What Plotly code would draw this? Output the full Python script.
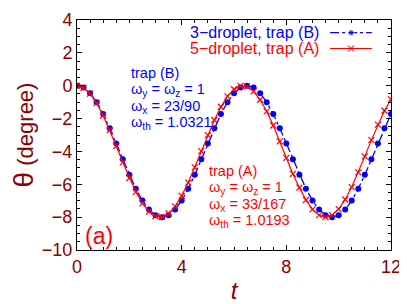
import plotly.graph_objects as go

t = [0.25 * k for k in range(49)]

theta_B = [0, -0.116, -0.458, -1.006, -1.728, -2.582, -3.518, -4.482, -5.418, -6.273,
           -6.994, -7.541, -7.884, -8.0, -7.884, -7.541, -6.994, -6.273, -5.418, -4.482,
           -3.518, -2.582, -1.728, -1.006, -0.458, -0.116, 0.0, -0.116, -0.458, -1.006,
           -1.728, -2.582, -3.518, -4.482, -5.418, -6.273, -6.994, -7.541, -7.884, -8.0,
           -7.884, -7.541, -6.994, -6.273, -5.418, -4.482, -3.518, -2.582, -1.728]

theta_A = [0, -0.123, -0.482, -1.058, -1.814, -2.704, -3.672, -4.665, -5.615, -6.463,
           -7.158, -7.664, -7.947, -7.986, -7.779, -7.342, -6.704, -5.898, -4.969, -3.979,
           -3.003, -2.085, -1.283, -0.649, -0.213, -0.013, -0.057, -0.343, -0.855, -1.562,
           -2.423, -3.384, -4.389, -5.370, -6.205, -6.958, -7.527, -7.882, -8.0, -7.873,
           -7.509, -6.928, -6.170, -5.278, -4.301, -3.311, -2.368, -1.522, -0.827]

x_ticks = [0, 4, 8, 12]
y_ticks = [4, 2, 0, -2, -4, -6, -8, -10]

legend_labels = ["3\u2212droplet, trap (B)", "5\u2212droplet, trap (A)"]
legend_sample_x = [0.806, 0.873, 0.939]
legend_rows_y = [0.945, 0.876]

ann_B = ["trap (B)", "\u03c9<sub>y</sub> = \u03c9<sub>z</sub> = 1",
         "\u03c9<sub>x</sub> = 23/90", "\u03c9<sub>th</sub> = 1.0321"]
ann_A = ["trap (A)", "\u03c9<sub>y</sub> = \u03c9<sub>z</sub> = 1",
         "\u03c9<sub>x</sub> = 33/167", "\u03c9<sub>th</sub> = 1.0193"]

DR = "#8b0000"
FONT = "Liberation Sans, Arial, sans-serif"
BLUE = "#0000ff"
RED = "#ff0000"

fig = go.Figure()
fig.add_trace(go.Scatter(
    x=t, y=theta_B, mode="lines+markers", name=legend_labels[0], showlegend=False,
    line=dict(color=BLUE, width=1.3, dash="dashdot"),
    marker=dict(color=BLUE, size=6, symbol="circle")))
fig.add_trace(go.Scatter(
    x=t, y=theta_A, mode="lines+markers", name=legend_labels[1], showlegend=False,
    line=dict(color=RED, width=1.2),
    marker=dict(color=RED, size=6, symbol="x-thin", line=dict(color=RED, width=1.2))))

# custom legend samples (symbol to the right of text, as in the reference)
fig.add_trace(go.Scatter(
    x=legend_sample_x, y=[legend_rows_y[0]] * 3, xaxis="x2", yaxis="y2",
    mode="lines+markers", showlegend=False, hoverinfo="skip",
    line=dict(color=BLUE, width=1.3, dash="dashdot"),
    marker=dict(color=BLUE, size=[0, 6, 0], symbol="circle")))
fig.add_trace(go.Scatter(
    x=legend_sample_x, y=[legend_rows_y[1]] * 3, xaxis="x2", yaxis="y2",
    mode="lines+markers", showlegend=False, hoverinfo="skip",
    line=dict(color=RED, width=1.2),
    marker=dict(color=RED, size=[0, 6, 0], symbol="x-thin", line=dict(color=RED, width=1.2))))

for lab, yy, col in zip(legend_labels, legend_rows_y, [BLUE, RED]):
    fig.add_annotation(xref="paper", yref="paper", x=0.778, y=yy, xanchor="right",
                       yanchor="middle", showarrow=False, text=lab,
                       font=dict(size=16, color=col, family=FONT))

axis_common = dict(showline=True, linecolor="black", linewidth=1, mirror="ticks",
                   ticks="inside", ticklen=5, tickcolor="black", showgrid=False,
                   zeroline=False, automargin=False,
                   tickfont=dict(size=18, color=DR, family=FONT))

xaxis = dict(range=[0, 12], tickvals=x_ticks, ticktext=[str(v) for v in x_ticks],
             minor=dict(dtick=0.5, ticks="inside", ticklen=3, tickcolor="black"),
             title=dict(text="<i>t</i>", font=dict(size=24, color=DR, family=FONT), standoff=6),
             **axis_common)
yaxis = dict(range=[-10, 4], tickvals=y_ticks,
             ticktext=[str(v).replace("-", "\u2212") for v in y_ticks],
             minor=dict(dtick=0.5, ticks="inside", ticklen=3, tickcolor="black"),
             title=dict(text="<span style='font-size:28px'>\u03b8</span> (degree)",
                        font=dict(size=22, color=DR, family=FONT), standoff=3),
             **axis_common)

fig.update_layout(
    xaxis=xaxis, yaxis=yaxis,
    xaxis2=dict(overlaying="x", range=[0, 1], visible=False, fixedrange=True),
    yaxis2=dict(overlaying="y", range=[0, 1], visible=False, fixedrange=True),
)

# parameter text blocks, one annotation per line (tight line pitch like the reference)
for i, line in enumerate(ann_B):
    fig.add_annotation(xref="paper", yref="paper", x=(129 - 77) / 314,
                       y=(250 - (63 + 16.3 * i)) / 230, xanchor="left", yanchor="top",
                       align="left", showarrow=False, text=line,
                       font=dict(size=14.5, color=BLUE, family=FONT))
for i, line in enumerate(ann_A):
    fig.add_annotation(xref="paper", yref="paper", x=(207 - 77) / 314,
                       y=(250 - (161 + 16.3 * i)) / 230, xanchor="left", yanchor="top",
                       align="left", showarrow=False, text=line,
                       font=dict(size=14.5, color=RED, family=FONT))
fig.add_annotation(xref="paper", yref="paper", x=(83 - 77) / 314, y=(250 - 236) / 230,
                   xanchor="left", yanchor="middle", showarrow=False,
                   text="(a)", font=dict(size=23, color=RED, family=FONT))

# the page body adds an 8px offset; margins compensate so the plot lands where the reference has it
fig.update_layout(
    width=407, height=304,
    margin=dict(l=69, r=24, t=12, b=62),
    paper_bgcolor="white", plot_bgcolor="white",
    font=dict(family=FONT),
    showlegend=False,
)

fig.write_html("out.html")
